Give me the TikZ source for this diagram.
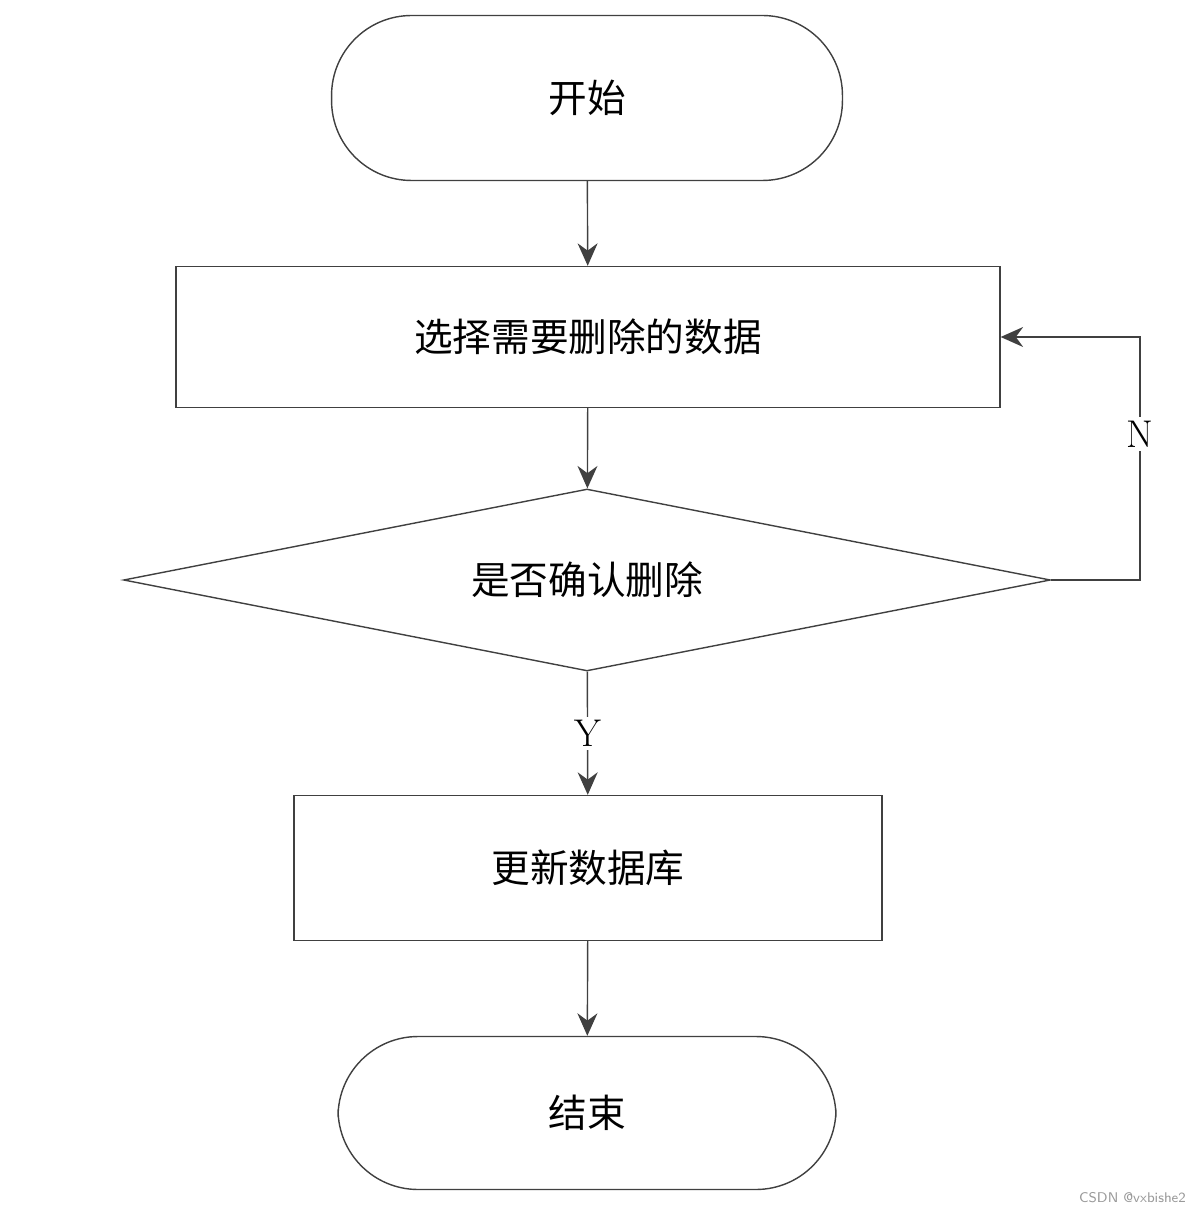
\documentclass[tikz,border=0pt]{standalone}
\usepackage{fontspec}
\newfontfamily\cjk{Noto Sans CJK SC}[BoldFont={Noto Sans CJK SC Bold}]
\usetikzlibrary{shapes.geometric, arrows.meta}

\begin{document}
\begin{tikzpicture}[x=0.02cm, y=-0.02cm,
        box/.style={draw=black!75, thick, rectangle, font=\cjk\fontsize{22}{26}\selectfont},
        term/.style={box, rounded corners=1.6cm},
        decide/.style={draw=black!75, thick, diamond, aspect=5.09, inner sep=0pt, font=\cjk\fontsize{22}{26}\selectfont},
        flow/.style={draw=black!75, thick, -{Stealth[length=0.45cm, width=0.4cm]}},
        lab/.style={fill=white, inner sep=2pt, font=\fontsize{22}{24}\selectfont}]
        \useasboundingbox (0,0) rectangle (1200,1212);

        % Nodes
        \node[term, minimum width=10.22cm, minimum height=3.3cm] (start) at (587,98) {开始};
        \node[box, minimum width=16.48cm, minimum height=2.82cm] (select) at (588,337) {选择需要删除的数据};
        \node[decide, minimum width=18.54cm, minimum height=3.64cm] (confirm) at (587,580) {是否确认删除};
        \node[box, minimum width=11.76cm, minimum height=2.9cm] (update) at (588,868) {更新数据库};
        \node[term, minimum width=9.96cm, minimum height=3.06cm] (stop) at (587,1113) {结束};
        \coordinate (loop) at (1140,580);

        % Edges
        \draw[flow] (start) -- (select);
        \draw[flow] (select) -- (confirm);
        \draw[flow] (confirm) -- node[lab, pos=0.5] {Y} (update);
        \draw[flow] (confirm.east) -- (loop) |- node[lab, pos=0.3] {N} (select.east);

        \draw[flow] (update) -- (stop);

        \node[text=black!40, font=\sffamily\fontsize{8}{9}\selectfont, anchor=east] (mark) at (1192,1198) {CSDN @vxbishe2};
\end{tikzpicture}
\end{document}
